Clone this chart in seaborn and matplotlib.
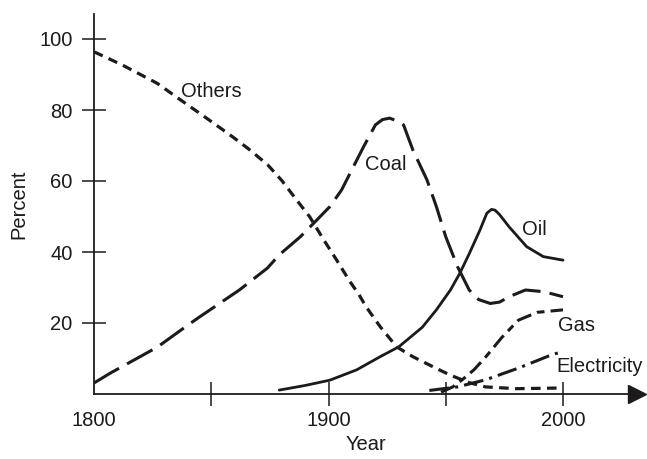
import numpy as np
import matplotlib
matplotlib.use("Agg")
import matplotlib.pyplot as plt
import seaborn as sns

# values (share of energy use, percent)
others_year = [1800, 1812, 1827, 1837, 1848, 1859, 1866, 1874, 1880, 1886, 1892, 1898, 1903.5, 1909, 1913, 1916,
               1922, 1929, 1936, 1946, 1952, 1960, 1967, 1980, 2000]
others_pct = [96.4, 92.7, 87.5, 82.8, 77.7, 72.5, 69.0, 64.6, 60.2, 55.0, 49.9, 43.4, 37.7, 31.8, 28.0, 24.6,
              19.0, 13.3, 10.5, 7.2, 5.3, 3.2, 2.0, 1.5, 1.7]

coal_year = [1800, 1807, 1827, 1840, 1845, 1862, 1874, 1879, 1888, 1895, 1900.6, 1905.6, 1910.6, 1915, 1920,
             1923, 1926, 1929, 1932, 1936, 1942, 1946, 1950, 1955, 1960, 1964, 1969, 1973, 1977, 1984, 1992, 2000]
coal_pct = [3.1, 5.9, 13.2, 19.4, 21.7, 29.3, 35.5, 39.2, 44.3, 49.0, 52.8, 57.5, 64.0, 69.7, 75.8,
            77.3, 77.7, 77.0, 75.8, 68.7, 60.3, 52.8, 44.3, 35.9, 29.3, 26.6, 25.5, 25.9, 27.4, 29.3, 28.8, 27.4]

oil_year = [1879, 1890, 1900.6, 1912, 1922, 1930, 1940, 1946, 1952, 1956, 1960, 1964.6, 1967.5, 1969.5, 1971,
            1973, 1977, 1984.5, 1991.6, 2000]
oil_pct = [1.1, 2.4, 3.9, 6.8, 10.5, 13.3, 18.8, 23.7, 29.3, 34.0, 39.5, 46.2, 50.9, 52.0, 51.8,
           50.5, 47.1, 41.5, 38.7, 37.7]

gas_year = [1948, 1953, 1957, 1962, 1967, 1974, 1981, 1989, 2000]
gas_pct = [0.5, 2.0, 4.0, 6.8, 10.4, 16.0, 20.8, 23.0, 23.7]

elec_year = [1943, 1955, 1967, 1981, 1995, 2000]
elec_pct = [1.0, 2.0, 4.0, 7.3, 11.0, 12.0]

series_names = ["Others", "Coal", "Oil", "Gas", "Electricity"]
label_x = [1837, 1915.6, 1982.5, 1997.9, 1997]
label_y = [83.7, 63.1, 44.8, 17.7, 6.2]

x_ticks = [1800, 1850, 1900, 1950, 2000]
x_tick_labels = ["1800", "", "1900", "", "2000"]
y_ticks = [20, 40, 60, 80, 100]

sns.set_theme(style="white")
plt.rcParams["font.family"] = ["Liberation Sans", "DejaVu Sans"]
ink = "#1c1a1b"

fig = plt.figure(figsize=(6.47, 4.59), dpi=100)
ax = fig.add_axes([94 / 647, 65 / 459, 543 / 647, 380 / 459])

styles = {
    "Others": dict(lw=2.3, ls=(0, (3.0, 2.0))),
    "Coal": dict(lw=2.2, ls=(0, (9.5, 3.0))),
    "Oil": dict(lw=2.0, ls="-"),
    "Gas": dict(lw=2.2, ls=(0, (5.0, 2.0, 2.5, 2.0))),
    "Electricity": dict(lw=2.2, ls=(0, (6.5, 2.0, 1.0, 2.0))),
}
data = {
    "Others": (others_year, others_pct),
    "Coal": (coal_year, coal_pct),
    "Oil": (oil_year, oil_pct),
    "Gas": (gas_year, gas_pct),
    "Electricity": (elec_year, elec_pct),
}
for name in series_names:
    xs, ys = data[name]
    st = styles[name]
    sns.lineplot(x=xs, y=ys, ax=ax, color=ink, linewidth=st["lw"],
                 linestyle=st["ls"], sort=False)

for name, tx, ty in zip(series_names, label_x, label_y):
    ax.text(tx, ty, name, ha="left", va="baseline", fontsize=14.5, color=ink)

ax.set_xlim(1800, 1800 + 543 / 2.345)
ax.set_ylim(0, 380 / 3.55)

for side in ["top", "right"]:
    ax.spines[side].set_visible(False)
for side in ["left", "bottom"]:
    ax.spines[side].set_color(ink)
    ax.spines[side].set_linewidth(1.3)

# arrow heads on the axes
ax.plot(1, 0, ">", color=ink, ms=13, transform=ax.get_yaxis_transform(), clip_on=False)
ax.plot(0, 1, "^", color=ink, ms=13, transform=ax.get_xaxis_transform(), clip_on=False)

ax.set_xticks(x_ticks)
ax.set_xticklabels(x_tick_labels)
ax.set_yticks(y_ticks)
ax.tick_params(axis="both", direction="inout", length=17, width=1.1, color=ink,
               labelsize=14.5, labelcolor=ink, bottom=True, left=True)
ax.tick_params(axis="x", pad=3.5)
ax.tick_params(axis="y", pad=7)
ax.xaxis.get_major_ticks()[0].tick1line.set_visible(False)

ax.set_xlabel("Year", fontsize=14.5, color=ink, labelpad=4)
ax.set_ylabel("Percent", fontsize=14.5, color=ink, labelpad=8)
ax.grid(False)

fig.savefig("out.png", dpi=100)
